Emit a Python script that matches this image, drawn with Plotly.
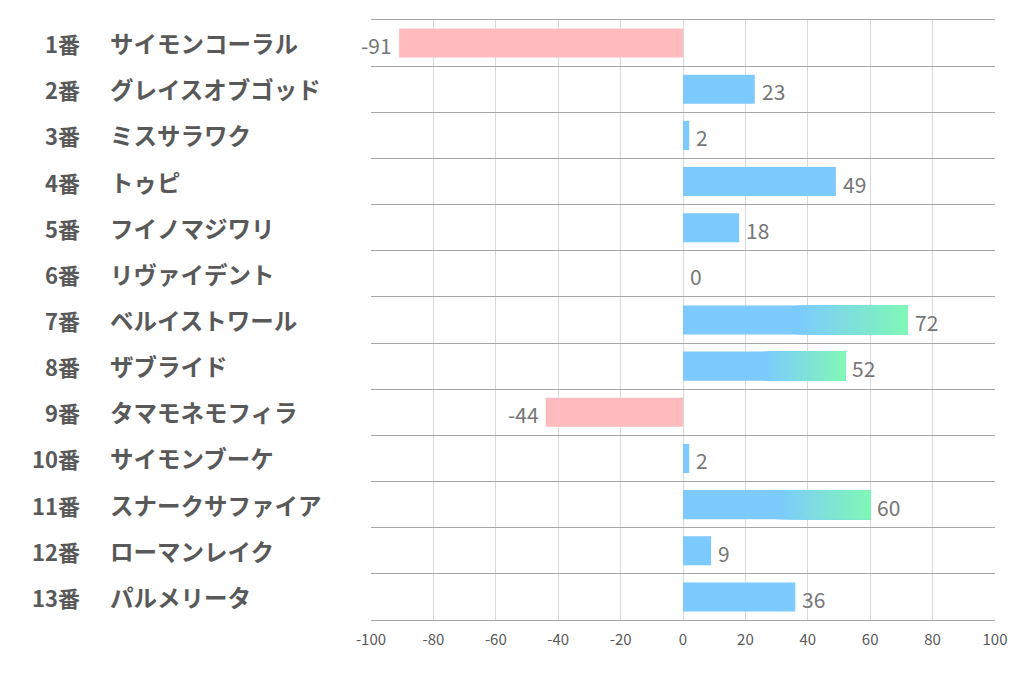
import plotly.graph_objects as go

nums = ["1番", "2番", "3番", "4番", "5番", "6番", "7番", "8番", "9番", "10番", "11番", "12番", "13番"]
names = ["サイモンコーラル", "グレイスオブゴッド", "ミスサラワク", "トゥピ", "フイノマジワリ",
         "リヴァイデント", "ベルイストワール", "ザブライド", "タマモネモフィラ", "サイモンブーケ",
         "スナークサファイア", "ローマンレイク", "パルメリータ"]
values = [-91, 23, 2, 49, 18, 0, 72, 52, -44, 2, 60, 9, 36]
x_ticks = [-100, -80, -60, -40, -20, 0, 20, 40, 60, 80, 100]

BLUE = (124, 202, 255)
GREEN = (128, 247, 182)
PINK = (255, 187, 189)
GRAD_MIN = 50
BAR_W = 0.63
FONT = "Noto Sans CJK JP"

def rgb(c):
    return "rgb(%d,%d,%d)" % c

def mix(a, b, t):
    return tuple(round(a[i] + (b[i] - a[i]) * t) for i in range(3))

idx = list(range(len(values)))
fig = go.Figure()

# main bars (full length)
main_c = [rgb(BLUE) if v >= 0 else rgb(PINK) for v in values]
fig.add_trace(go.Bar(y=idx, x=values, base=[0] * len(values), orientation="h",
                     width=BAR_W, marker=dict(color=main_c, line=dict(width=0)),
                     hoverinfo="skip", showlegend=False))

# gradient overlay on second half of long bars
N = 30
grad_rows = [i for i, v in enumerate(values) if v >= GRAD_MIN]
for k in range(N):
    ys, bs, xs, cs = [], [], [], []
    for i in grad_rows:
        v = values[i]
        step = (v / 2) / N
        b = v / 2 + k * step
        ys.append(i)
        bs.append(b)
        xs.append(v - b)
        cs.append(rgb(mix(BLUE, GREEN, (k + 0.5) / N)))
    fig.add_trace(go.Bar(y=ys, x=xs, base=bs, orientation="h", width=BAR_W,
                         marker=dict(color=cs, line=dict(width=0)),
                         hoverinfo="skip", showlegend=False))

annotations = []
for i, v in enumerate(values):
    annotations.append(dict(x=v, y=i, xref="x", yref="y", text=str(v), showarrow=False,
                            xanchor="left" if v >= 0 else "right",
                            xshift=5 if v >= 0 else -5, yshift=-2,
                            font=dict(family=FONT, size=21, color="#767676")))
    annotations.append(dict(x=-0.463, y=i, xref="paper", yref="y", text=nums[i], showarrow=False,
                            xanchor="right", font=dict(family=FONT, size=22, color="#595959", weight="bold")))
    annotations.append(dict(x=-0.4215, y=i, xref="paper", yref="y", text=names[i], showarrow=False,
                            xanchor="left", font=dict(family=FONT, size=23.5, color="#595959", weight="bold")))

fig.update_layout(
    width=1014, height=670,
    margin=dict(l=363, r=27, t=12, b=58),
    paper_bgcolor="white", plot_bgcolor="white",
    barmode="overlay",
    annotations=annotations,
    xaxis=dict(range=[-100, 100], tickvals=x_ticks, ticktext=[str(t) for t in x_ticks],
               showgrid=True, gridcolor="#d9d9d9", gridwidth=1, zeroline=False,
               showline=True, mirror=True, linecolor="#a6a6a6", linewidth=1,
               tickfont=dict(family=FONT, size=15, color="#595959"), ticks="",
               ticklabelstandoff=6),
    yaxis=dict(range=[12.5, -0.5], tickvals=[i - 0.5 for i in range(len(values) + 1)],
               showticklabels=False, showgrid=True, gridcolor="#a6a6a6", gridwidth=1,
               zeroline=False, ticks=""),
)

fig.write_html("out.html")
